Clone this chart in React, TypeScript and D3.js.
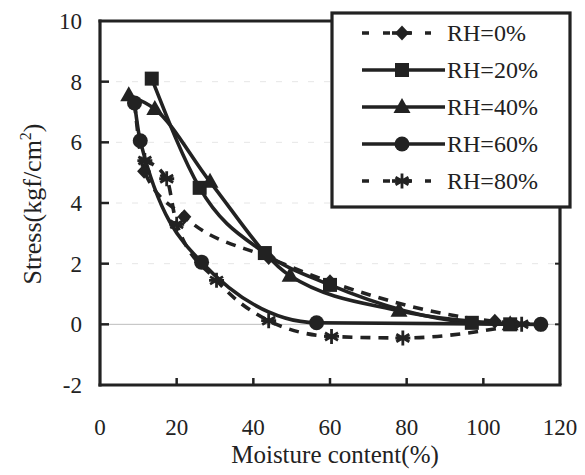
import React from "react";
import * as d3 from "d3";

type Pt = [number, number];

const xTicks = [0, 20, 40, 60, 80, 100, 120];
const yTicks = [-2, 0, 2, 4, 6, 8, 10];

const rh0: Pt[] = [[9, 7.3], [11.5, 5.05], [22, 3.55], [44, 2.2], [60, 1.4], [103, 0.1], [115, 0]];
const rh20: Pt[] = [[13.5, 8.1], [26, 4.5], [43, 2.35], [60, 1.3], [97, 0.05], [107, 0]];
const rh40: Pt[] = [[7.5, 7.55], [14.3, 7.1], [28.7, 4.7], [49.6, 1.6], [78, 0.45], [107, 0]];
const rh60: Pt[] = [[9, 7.3], [10.5, 6.05], [26.5, 2.05], [56.5, 0.05], [115, 0]];
const rh80: Pt[] = [[11.7, 5.4], [17.4, 4.8], [20, 3.3], [30.4, 1.45], [44, 0.12], [60.4, -0.4], [79, -0.45], [110, 0]];

const seriesNames = ["RH=0%", "RH=20%", "RH=40%", "RH=60%", "RH=80%"];
const seriesData = [rh0, rh20, rh40, rh60, rh80];
const seriesMarkers = ["diamond", "square", "triangle", "circle", "asterisk"];
const seriesDashed = [true, false, false, false, true];

const INK = "#222";
const FONT = "'Liberation Serif', 'Times New Roman', serif";

function Marker({ kind, x, y }: { kind: string; x: number; y: number }) {
  if (kind === "diamond") {
    return <path d={`M${x},${y - 7.5}L${x + 7},${y}L${x},${y + 7.5}L${x - 7},${y}Z`} fill={INK} />;
  }
  if (kind === "square") {
    return <rect x={x - 7} y={y - 7} width={14} height={14} fill={INK} />;
  }
  if (kind === "triangle") {
    return <path d={`M${x},${y - 9}L${x + 8.5},${y + 6}L${x - 8.5},${y + 6}Z`} fill={INK} />;
  }
  if (kind === "circle") {
    return <circle cx={x} cy={y} r={7.5} fill={INK} />;
  }
  const r = 7.5;
  const arms = [0, 60, 120].map((a) => {
    const rad = (a * Math.PI) / 180;
    const dx = Math.sin(rad) * r;
    const dy = Math.cos(rad) * r;
    return `M${x - dx},${y - dy}L${x + dx},${y + dy}`;
  });
  return <path d={arms.join("") + `M${x - r},${y}L${x + r},${y}`} stroke={INK} strokeWidth={2.8} fill="none" />;
}

export default function App() {
  const x = d3.scaleLinear().domain([0, 120]).range([100, 560]);
  const y = d3.scaleLinear().domain([-2, 10]).range([385, 21]);
  const line = d3
    .line<Pt>()
    .x((d) => x(d[0]))
    .y((d) => y(d[1]))
    .curve(d3.curveMonotoneX);

  const legend = { x0: 332, y0: 13, x1: 570, y1: 207 };

  return (
    <svg
      width={585}
      height={475}
      style={{ position: "absolute", left: 0, top: 0, background: "#fff" }}
      fontFamily={FONT}
    >
      <rect x={0} y={0} width={585} height={475} fill="#fff" />
      {yTicks
        .filter((t) => t !== -2 && t !== 10)
        .map((t) => (
          <line
            key={"g" + t}
            x1={x(0)}
            x2={x(120)}
            y1={y(t)}
            y2={y(t)}
            stroke={t === 0 ? "#bdbdbd" : "#e6e6e6"}
            strokeWidth={1}
            strokeDasharray={t === 0 ? undefined : "6,10"}
          />
        ))}

      {seriesData.map((data, i) => (
        <path
          key={"l" + i}
          d={line(data) || ""}
          fill="none"
          stroke={INK}
          strokeWidth={3.6}
          strokeDasharray={seriesDashed[i] ? "10,8" : undefined}
        />
      ))}
      {seriesData.map((data, i) =>
        data.map((d, j) => <Marker key={`m${i}-${j}`} kind={seriesMarkers[i]} x={x(d[0])} y={y(d[1])} />)
      )}

      <line x1={x(0)} x2={x(0)} y1={y(10) - 1.5} y2={y(-2) + 1.5} stroke={INK} strokeWidth={3.2} />
      <line x1={x(0) - 1.5} x2={x(120) + 1.5} y1={y(-2)} y2={y(-2)} stroke={INK} strokeWidth={3.2} />
      <line x1={x(0) - 1.5} x2={legend.x0} y1={y(10)} y2={y(10)} stroke={INK} strokeWidth={3.2} />
      <line x1={x(120)} x2={x(120)} y1={legend.y1} y2={y(-2)} stroke={INK} strokeWidth={3.2} />

      {yTicks
        .filter((t) => t !== -2 && t !== 10)
        .map((t) => (
          <g key={"yt" + t}>
            <line x1={x(0)} x2={x(0) + 9} y1={y(t)} y2={y(t)} stroke={INK} strokeWidth={2.5} />
            {y(t) > legend.y1 && (
              <line x1={x(120) - 5} x2={x(120)} y1={y(t)} y2={y(t)} stroke={INK} strokeWidth={2} />
            )}
          </g>
        ))}
      {xTicks
        .filter((t) => t !== 0 && t !== 120)
        .map((t) => (
          <line key={"xt" + t} x1={x(t)} x2={x(t)} y1={y(-2)} y2={y(-2) - 7} stroke={INK} strokeWidth={2.5} />
        ))}

      {yTicks.map((t) => (
        <text key={"yl" + t} x={82} y={y(t) + 8} textAnchor="end" fontSize={23} fill={INK}>
          {t}
        </text>
      ))}
      {xTicks.map((t) => (
        <text key={"xl" + t} x={x(t)} y={435} textAnchor="middle" fontSize={23} fill={INK}>
          {t}
        </text>
      ))}

      <text x={335} y={463} textAnchor="middle" fontSize={25} fill={INK}>
        Moisture content(%)
      </text>
      <text transform="translate(41,204) rotate(-90)" textAnchor="middle" fontSize={26} fill={INK}>
        Stress(kgf/cm
        <tspan fontSize={16} dy={-10}>
          2
        </tspan>
        <tspan dy={10}>)</tspan>
      </text>

      <rect
        x={legend.x0}
        y={legend.y0}
        width={legend.x1 - legend.x0}
        height={legend.y1 - legend.y0}
        fill="#fff"
        stroke={INK}
        strokeWidth={3.2}
      />
      {seriesNames.map((name, i) => {
        const cy = 33 + i * 37;
        return (
          <g key={"lg" + i}>
            {seriesDashed[i] ? (
              <line x1={362} x2={431} y1={cy} y2={cy} stroke={INK} strokeWidth={3.6} strokeDasharray="7,14" />
            ) : (
              <line x1={362} x2={445} y1={cy} y2={cy} stroke={INK} strokeWidth={3.6} />
            )}
            {seriesDashed[i] && <line x1={392} x2={412} y1={cy} y2={cy} stroke={INK} strokeWidth={3.6} />}
            <Marker kind={seriesMarkers[i]} x={402} y={cy} />
            <text x={447} y={cy + 8} fontSize={24} fill={INK}>
              {name}
            </text>
          </g>
        );
      })}
    </svg>
  );
}
